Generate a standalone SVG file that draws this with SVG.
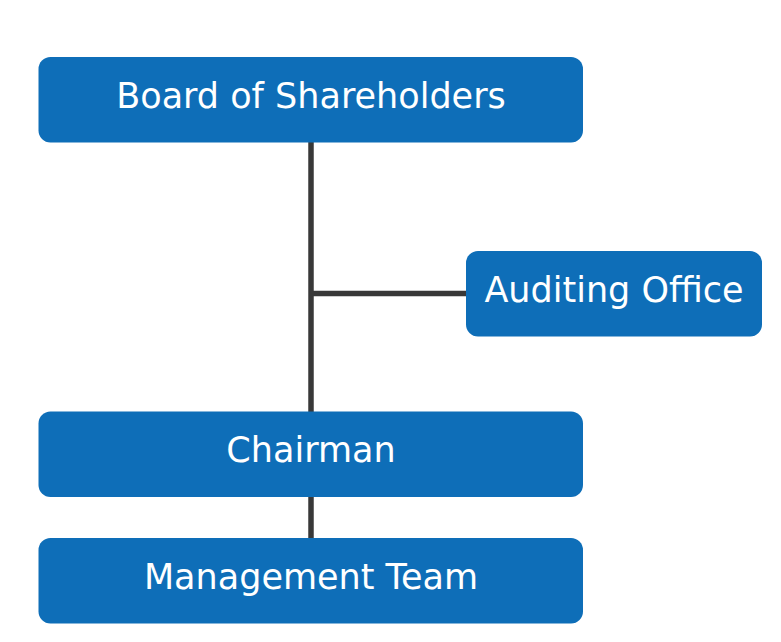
<svg xmlns="http://www.w3.org/2000/svg" width="781" height="642" viewBox="0 0 781 642">
<style>
.box{fill:#0e6eb8}
.lbl{fill:#fff;font-family:"DejaVu Sans",Verdana,sans-serif;font-size:35px;text-anchor:middle}
.ln{stroke:#383838;stroke-width:5.5;fill:none}
</style>
<rect width="781" height="642" fill="#fff"/>
<g id="connectors">
<line class="ln" x1="311" y1="142" x2="311" y2="412"/>
<line class="ln" x1="311" y1="293.5" x2="467" y2="293.5"/>
<line class="ln" x1="311" y1="496" x2="311" y2="539"/>
</g>
<g id="board"><rect class="box" x="38.5" y="57" width="544.5" height="85.5" rx="12"/><text class="lbl" x="311" y="107.5">Board of Shareholders</text></g>
<g id="auditing"><rect class="box" x="466" y="251" width="296" height="85.5" rx="12"/><text class="lbl" x="614" y="301.5">Auditing Office</text></g>
<g id="chairman"><rect class="box" x="38.5" y="411.5" width="544.5" height="85.5" rx="12"/><text class="lbl" x="311" y="461.5">Chairman</text></g>
<g id="management"><rect class="box" x="38.5" y="538" width="544.5" height="85.5" rx="12"/><text class="lbl" x="311" y="588.5">Management Team</text></g>
</svg>
